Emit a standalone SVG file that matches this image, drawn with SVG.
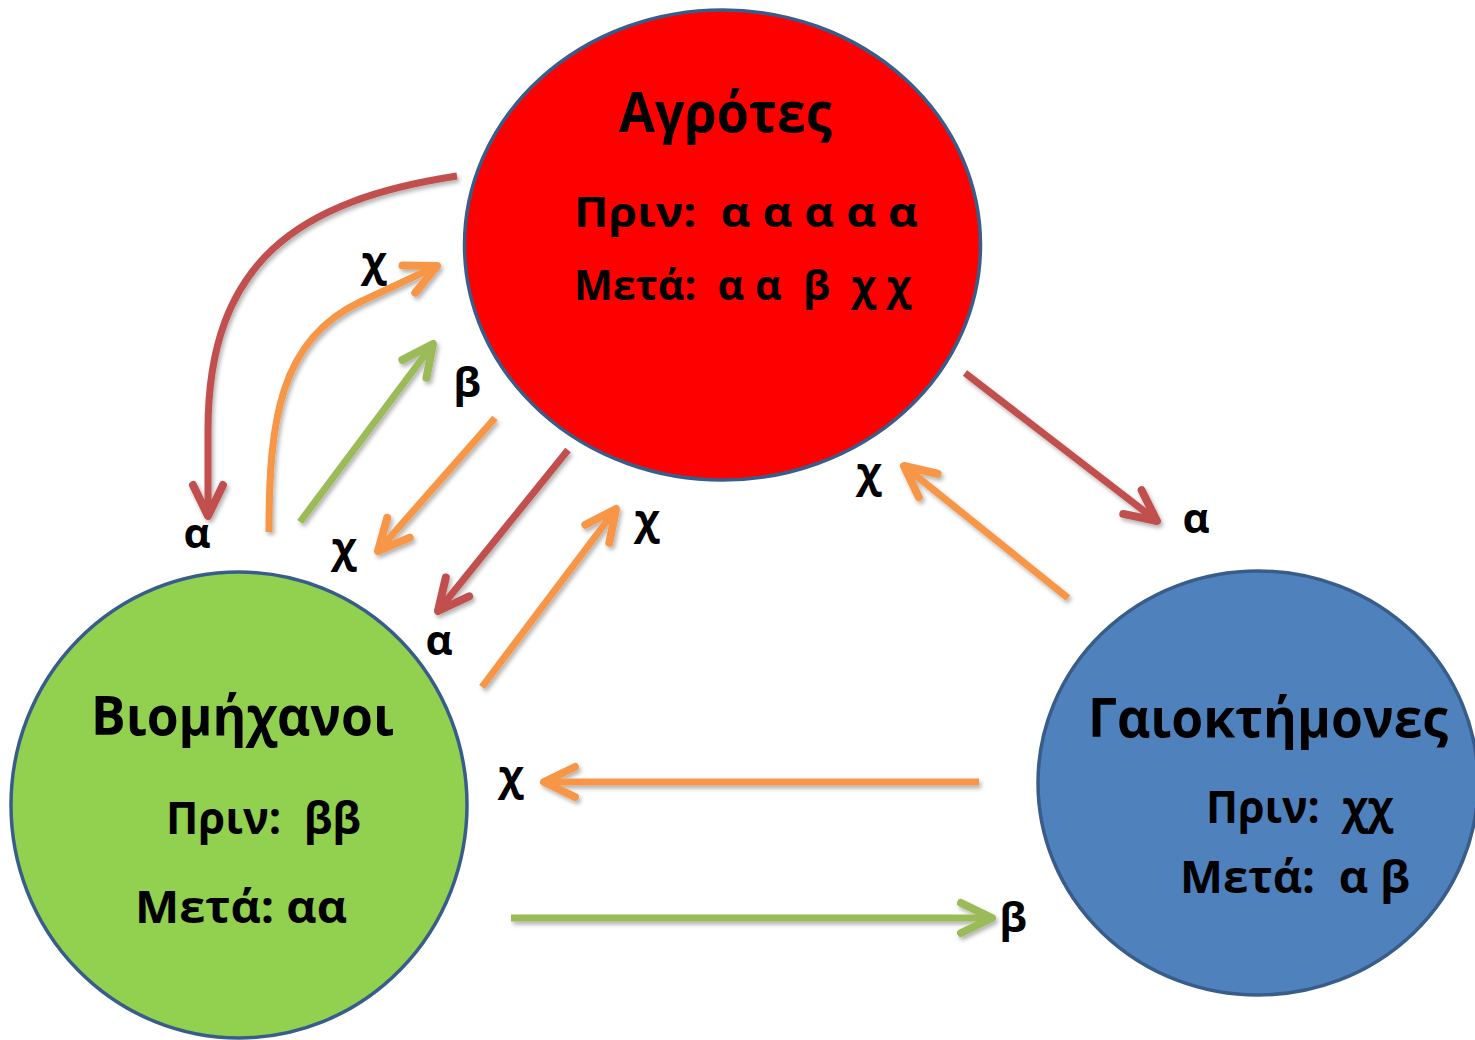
<svg xmlns="http://www.w3.org/2000/svg" width="1475" height="1040" viewBox="0 0 1475 1040">
<style>
text{font-family:"Open Sans","Noto Sans","Liberation Sans",sans-serif;font-weight:bold;fill:#000;white-space:pre}
.node{stroke:#385D8A;stroke-width:3.5}
.c{fill:none;stroke-width:7;stroke-linecap:butt;stroke-linejoin:round}
.red{stroke:#C0504D}
.org{stroke:#F79646}
.grn{stroke:#9BBB59}
.lbl{font-size:42px;text-anchor:middle}
</style>
<defs>
<filter id="sh" x="-20%" y="-20%" width="140%" height="140%">
<feDropShadow dx="2" dy="3" stdDeviation="2" flood-color="#000" flood-opacity="0.3"/>
</filter>
<marker id="mr" markerUnits="userSpaceOnUse" orient="auto" markerWidth="60" markerHeight="60" refX="0" refY="0" viewBox="-40 -30 60 60" overflow="visible">
<path d="M-31,-15 L0,0 L-31,15" fill="none" stroke="#C0504D" stroke-width="8" stroke-linecap="round" stroke-linejoin="round"/>
</marker>
<marker id="mo" markerUnits="userSpaceOnUse" orient="auto" markerWidth="60" markerHeight="60" refX="0" refY="0" viewBox="-40 -30 60 60" overflow="visible">
<path d="M-31,-15 L0,0 L-31,15" fill="none" stroke="#F79646" stroke-width="8" stroke-linecap="round" stroke-linejoin="round"/>
</marker>
<marker id="mg" markerUnits="userSpaceOnUse" orient="auto" markerWidth="60" markerHeight="60" refX="0" refY="0" viewBox="-40 -30 60 60" overflow="visible">
<path d="M-31,-15 L0,0 L-31,15" fill="none" stroke="#9BBB59" stroke-width="8" stroke-linecap="round" stroke-linejoin="round"/>
</marker>
</defs>
<rect width="1475" height="1040" fill="#fff"/>

<g id="node-agrotes">
<ellipse class="node" cx="722.5" cy="245" rx="258" ry="235" fill="#FF0000"/>
<text x="619" y="132" font-size="56" textLength="213" lengthAdjust="spacingAndGlyphs">Αγρότες</text>
<text x="574" y="227" font-size="42" textLength="344" lengthAdjust="spacingAndGlyphs" xml:space="preserve">Πριν:  α α α α α</text>
<text x="574" y="300" font-size="42" textLength="337" lengthAdjust="spacingAndGlyphs" xml:space="preserve">Μετά:  α α  β  χ χ</text>
</g>

<g id="node-viomichanoi">
<ellipse class="node" cx="239" cy="805" rx="228" ry="233" fill="#92D050"/>
<text x="91" y="735" font-size="54" textLength="303" lengthAdjust="spacingAndGlyphs">Βιομήχανοι</text>
<text x="166" y="834" font-size="44" textLength="195" lengthAdjust="spacingAndGlyphs" xml:space="preserve">Πριν:  ββ</text>
<text x="135" y="923" font-size="44" textLength="212" lengthAdjust="spacingAndGlyphs">Μετά: αα</text>
</g>

<g id="node-gaioktimones">
<ellipse class="node" cx="1258" cy="783" rx="220" ry="212" fill="#4F81BD"/>
<text x="1088" y="737" font-size="53" textLength="360" lengthAdjust="spacingAndGlyphs">Γαιοκτήμονες</text>
<text x="1206" y="823" font-size="44" textLength="187" lengthAdjust="spacingAndGlyphs" xml:space="preserve">Πριν:  χχ</text>
<text x="1180" y="893" font-size="44" textLength="230" lengthAdjust="spacingAndGlyphs" xml:space="preserve">Μετά:  α β</text>
</g>

<g id="connectors" filter="url(#sh)">
<path class="c red" d="M457,176 C300,200 208,260 208,430 L208,516" marker-end="url(#mr)"/>
<path class="c org" d="M269,532 C269,420 280,340 360,302 L437,266" marker-end="url(#mo)"/>
<path class="c grn" d="M300,522 L433,344" marker-end="url(#mg)"/>
<path class="c org" d="M495,418 L378,551" marker-end="url(#mo)"/>
<path class="c red" d="M568,450 L438,611" marker-end="url(#mr)"/>
<path class="c org" d="M482,687 L616,509" marker-end="url(#mo)"/>
<path class="c red" d="M965,373 L1157,521" marker-end="url(#mr)"/>
<path class="c org" d="M1068,598 L904,466" marker-end="url(#mo)"/>
<path class="c org" d="M979,782 L544,782" marker-end="url(#mo)"/>
<path class="c grn" d="M511,918 L992,918" marker-end="url(#mg)"/>
</g>

<g id="labels">
<text class="lbl" x="197" y="548">α</text>
<text class="lbl" x="374" y="276">χ</text>
<text class="lbl" x="467" y="397">β</text>
<text class="lbl" x="344" y="562">χ</text>
<text class="lbl" x="439" y="655">α</text>
<text class="lbl" x="647" y="534">χ</text>
<text class="lbl" x="869" y="487">χ</text>
<text class="lbl" x="1196" y="533">α</text>
<text class="lbl" x="511" y="790">χ</text>
<text class="lbl" x="1013" y="932">β</text>
</g>
</svg>
